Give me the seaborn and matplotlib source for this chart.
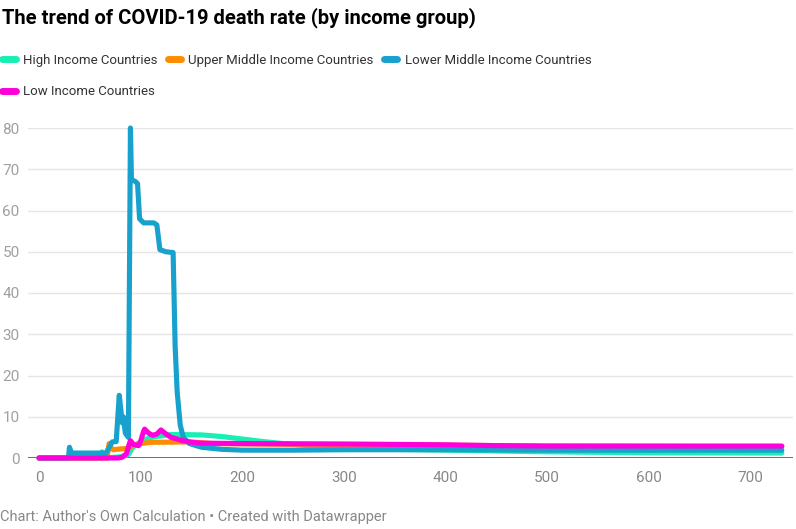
import pandas as pd
import seaborn as sns
import matplotlib.pyplot as plt
from matplotlib.lines import Line2D

# series (day index, death rate %)
groups = ["High Income Countries", "Upper Middle Income Countries",
          "Lower Middle Income Countries", "Low Income Countries"]
colors = ["#17efb3", "#ff8c00", "#18a1cd", "#ff00dc"]

high_days = [0, 60, 62, 64, 66, 80, 88, 92, 100, 110, 130, 160, 180, 200, 220, 240, 300, 400, 500, 600, 731]
high_vals = [0, 0, 1.5, 0.5, 0, 0.3, 0.8, 2.5, 4.0, 5.0, 5.7, 5.6, 5.2, 4.6, 4.0, 3.5, 2.3, 1.9, 1.5, 1.25, 1.2]

upper_days = [0, 67, 69, 71, 73, 80, 88, 92, 100, 110, 150, 170, 250, 400, 500, 731]
upper_vals = [0, 0, 3.5, 2.5, 2.0, 2.2, 2.3, 3.0, 3.5, 3.8, 3.9, 3.5, 3.3, 3.1, 2.9, 2.7]

lower_days = [0, 29, 30, 32, 40, 66, 69, 72, 76, 79, 82, 83, 85, 88, 90, 91, 95, 97, 99, 103,
              113, 116, 119, 125, 132, 134, 136, 139, 142, 148, 160, 180, 200, 250, 300, 400,
              500, 600, 731]
lower_vals = [0, 0, 2.6, 1.2, 1.2, 1.2, 2.5, 3.9, 4.0, 15.2, 8.5, 10.0, 6.0, 5.0, 80.0, 67.5,
              67.0, 66.5, 58.0, 57.0, 57.0, 56.5, 50.5, 50.0, 49.8, 27.0, 16.0, 8.0, 5.0, 3.5,
              2.6, 2.1, 1.9, 1.9, 2.0, 2.0, 1.9, 1.9, 1.9]

low_days = [0, 78, 82, 86, 89, 90, 93, 98, 100, 103, 104, 108, 112, 116, 120, 124, 130, 140,
            150, 160, 200, 300, 400, 450, 500, 731]
low_vals = [0, 0, 0.2, 1.0, 3.5, 4.2, 3.3, 3.0, 4.0, 6.5, 7.0, 6.0, 5.5, 5.8, 6.8, 6.0, 5.0,
            4.3, 3.8, 3.6, 3.5, 3.4, 3.2, 3.0, 2.9, 2.9]

y_ticks = [0, 10, 20, 30, 40, 50, 60, 70, 80]
x_ticks = [0, 100, 200, 300, 400, 500, 600, 700]

frames = []
for name, d, v in zip(groups,
                      [high_days, upper_days, lower_days, low_days],
                      [high_vals, upper_vals, lower_vals, low_vals]):
    frames.append(pd.DataFrame({"day": d, "rate": v, "group": name}))
df = pd.concat(frames, ignore_index=True)

sns.set_theme(style="white")
plt.rcParams["font.family"] = ["Roboto", "DejaVu Sans"]
plt.rcParams["lines.solid_capstyle"] = "round"
plt.rcParams["lines.solid_joinstyle"] = "round"

fig = plt.figure(figsize=(7.96, 5.29), dpi=100)
ax = fig.add_axes([28 / 796, 71 / 529, 765 / 796, 330 / 529])

sns.lineplot(data=df, x="day", y="rate", hue="group", hue_order=groups,
             palette=colors, linewidth=3.7, legend=False, sort=True, ax=ax)
for line in ax.lines:
    line.set_clip_on(False)

ax.set_xlim(-10.8, 742)
ax.set_ylim(0, 80)
ax.set_xticks(x_ticks)
ax.set_yticks(y_ticks)
ax.set_xlabel("")
ax.set_ylabel("")
ax.grid(axis="y", color="#e5e5e5", linewidth=1)
ax.grid(axis="x", visible=False)
for s in ax.spines.values():
    s.set_visible(False)
ax.axhline(0, color="#333333", linewidth=1.2, zorder=0.5)
ax.tick_params(axis="x", length=0, pad=9, labelsize=11, labelcolor="#888888")
ax.tick_params(axis="y", length=0, pad=6, labelsize=11, labelcolor="#a0a0a0")

# title, legend, footer
fig.text(0.003, 1 - 18 / 529, "The trend of COVID-19 death rate (by income group)",
         fontsize=14.5, fontweight="bold", color="#000000", va="center", ha="left")

handles = [Line2D([0], [0], color=c, linewidth=5) for c in colors]
order = [0, 3, 1, 2]
fig.legend([handles[i] for i in order], [groups[i] for i in order],
           ncol=3, loc="upper left", bbox_to_anchor=(0.003, 1 - 54 / 529),
           frameon=False, fontsize=9.5, labelcolor="#333333",
           handlelength=1.0, handletextpad=0.55, columnspacing=0.8,
           labelspacing=1.4, borderpad=0, borderaxespad=0)

fig.text(0.0, 1 - 517 / 529,
         "Chart: Author's Own Calculation \u2022 Created with Datawrapper",
         fontsize=10.5, color="#888888", va="center", ha="left")

fig.savefig("out.png", dpi=100)
